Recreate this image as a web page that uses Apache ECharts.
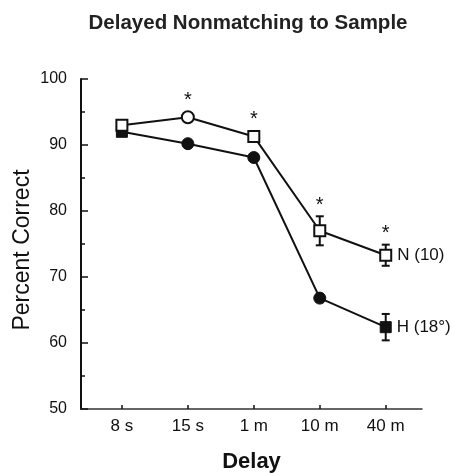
<!DOCTYPE html>
<html>
<head>
<meta charset="utf-8">
<script src="https://cdn.jsdelivr.net/npm/echarts@6/dist/echarts.min.js"></script>
<style>html,body{margin:0;padding:0;background:#fff;}#c{width:455px;height:473px;}</style>
</head>
<body>
<div id="c"></div>
<script>
const categories = ['8 s', '15 s', '1 m', '10 m', '40 m'];
const yTicks = [50, 60, 70, 80, 90, 100];
const nValues = [93.0, 94.2, 91.3, 77.0, 73.3];
const nErrors = [0.4, 0.5, 0.5, 2.2, 1.6];
const nSymbols = ['rect', 'circle', 'rect', 'rect', 'rect'];
const nSignificant = [false, true, true, true, true];
const hValues = [92.0, 90.2, 88.1, 66.8, 62.4];
const hErrors = [0.4, 0.4, 0.4, 0.6, 2.0];
const hSymbols = ['rect', 'circle', 'circle', 'circle', 'rect'];
const nLabel = 'N (10)';
const hLabel = 'H (18°)';

const FONT = 'Liberation Sans, Arial, sans-serif';
const INK = '#111';

function seriesData(values, symbols, label) {
  return values.map((v, i) => {
    const item = {
      value: [i, v],
      symbol: symbols[i],
      symbolSize: symbols[i] === 'rect' ? 11 : 12
    };
    if (i === values.length - 1) {
      item.label = {
        show: true, position: 'right', distance: 5, formatter: label,
        fontFamily: FONT, fontSize: 17, color: INK
      };
    }
    return item;
  });
}

function errData(values, errors, sig) {
  return values.map((v, i) => [i, v, errors[i], sig ? (sig[i] ? 1 : 0) : 0]);
}

function errRender(params, api) {
  const x = api.value(0), y = api.value(1), e = api.value(2), s = api.value(3);
  const top = api.coord([x, y + e]);
  const bot = api.coord([x, y - e]);
  const c = api.coord([x, y]);
  const children = [
    { type: 'line', shape: { x1: top[0], y1: top[1], x2: bot[0], y2: bot[1] }, style: { stroke: INK, lineWidth: 2 } },
    { type: 'line', shape: { x1: top[0] - 4, y1: top[1], x2: top[0] + 4, y2: top[1] }, style: { stroke: INK, lineWidth: 2 } },
    { type: 'line', shape: { x1: bot[0] - 4, y1: bot[1], x2: bot[0] + 4, y2: bot[1] }, style: { stroke: INK, lineWidth: 2 } }
  ];
  if (s) {
    const ay = Math.min(top[1], c[1] - 6) - 11;
    children.push({
      type: 'text', x: c[0], y: ay,
      style: { text: '*', fontFamily: FONT, fontSize: 20, fill: INK, align: 'center', verticalAlign: 'middle' }
    });
  }
  return { type: 'group', children: children };
}

const chart = echarts.init(document.getElementById('c'), null, { renderer: 'canvas' });
chart.setOption({
  animation: false,
  backgroundColor: '#fff',
  graphic: [
    {
      type: 'text', x: 248, y: 23,
      style: { text: 'Delayed Nonmatching to Sample', fontFamily: FONT, fontSize: 20.5, fontWeight: 'bold', fill: '#222', align: 'center', verticalAlign: 'middle' }
    },
    {
      type: 'text', x: 23, y: 250, rotation: Math.PI / 2,
      style: { text: 'Percent Correct', fontFamily: FONT, fontSize: 23, fill: INK, align: 'center', verticalAlign: 'middle' }
    }
  ],
  grid: { left: 81, right: 33, top: 79, bottom: 64, outerBoundsMode: 'none', containLabel: false },
  xAxis: {
    type: 'value', min: -0.62, max: 4.55,
    name: 'Delay', nameLocation: 'middle', nameGap: 42,
    nameTextStyle: { fontFamily: FONT, fontSize: 22, fontWeight: 'bold', color: INK },
    axisLine: { show: true, onZero: false, lineStyle: { color: '#333', width: 1.5 } },
    axisTick: { show: true, inside: true, length: 4, customValues: [0, 1, 2, 3, 4], lineStyle: { color: INK, width: 1.5 } },
    axisLabel: { show: true, customValues: [0, 1, 2, 3, 4], margin: 9, fontFamily: FONT, fontSize: 17, color: INK,
      formatter: v => categories[Math.round(v)] },
    splitLine: { show: false }
  },
  yAxis: {
    type: 'value', min: 50, max: 100, interval: 10,
    axisLine: { show: true, onZero: false, lineStyle: { color: INK, width: 2 } },
    axisTick: { show: true, inside: true, length: 7, lineStyle: { color: INK, width: 1.5 } },
    minorTick: { show: true, splitNumber: 2, length: 4, lineStyle: { color: INK, width: 1.5 } },
    axisLabel: { margin: 14, fontFamily: FONT, fontSize: 16, color: INK,
      formatter: v => yTicks.indexOf(v) >= 0 ? String(v) : '' },
    splitLine: { show: false }
  },
  series: [
    {
      type: 'custom', name: 'hErr', renderItem: errRender, data: errData(hValues, hErrors, null), z: 1,
      encode: { x: 0, y: 1 }
    },
    {
      type: 'line', name: 'H', data: seriesData(hValues, hSymbols, hLabel),
      lineStyle: { color: INK, width: 2 },
      itemStyle: { color: INK, borderColor: INK, borderWidth: 1 },
      z: 2
    },
    {
      type: 'custom', name: 'nErr', renderItem: errRender, data: errData(nValues, nErrors, nSignificant), z: 3,
      encode: { x: 0, y: 1 }
    },
    {
      type: 'line', name: 'N', data: seriesData(nValues, nSymbols, nLabel),
      lineStyle: { color: INK, width: 2 },
      itemStyle: { color: '#fff', borderColor: INK, borderWidth: 2 },
      z: 4
    }
  ]
});
</script>
</body>
</html>
